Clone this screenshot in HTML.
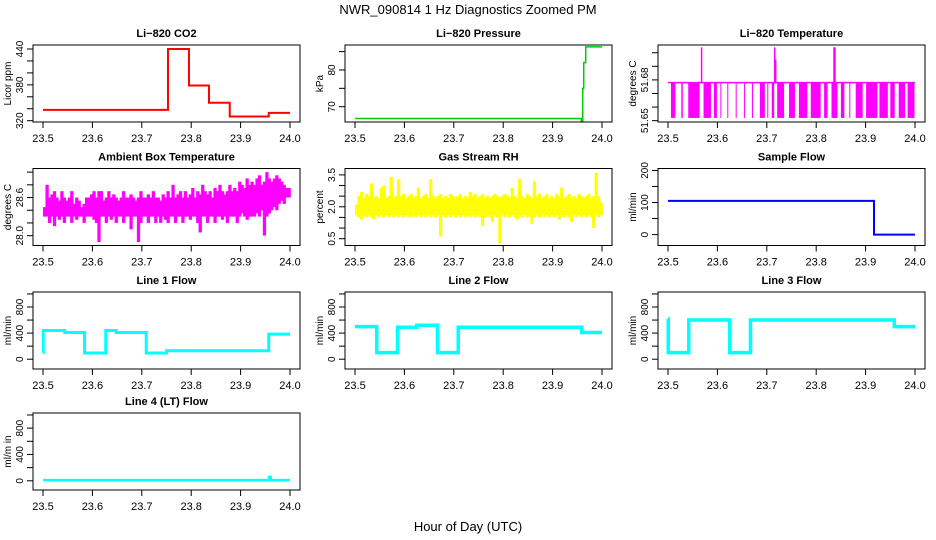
<!DOCTYPE html>
<html><head><meta charset="utf-8"><style>
html,body{margin:0;padding:0;background:#fff;}
svg{display:block;font-family:"Liberation Sans",Arial,sans-serif;}
</style></head><body>
<svg id="chart" width="936" height="540" viewBox="0 0 936 540">
<text x="468" y="14" text-anchor="middle" font-size="13">NWR_090814  1 Hz Diagnostics Zoomed PM</text>
<text x="468" y="531" text-anchor="middle" font-size="13">Hour of Day (UTC)</text>
</svg>
<script>
// ---- data ----
const xTicks = [23.5, 23.6, 23.7, 23.8, 23.9, 24.0];
const xTickLabels = ["23.5", "23.6", "23.7", "23.8", "23.9", "24.0"];

const co2Times = [23.5, 23.753, 23.7955, 23.836, 23.878, 23.957, 24.0];
const co2Values = [338, 440, 379, 350, 327, 333, 333];

const presTimes = [23.5, 23.916, 23.958, 23.961, 23.963, 23.967, 24.0];
const presValues = [66.8, 66.8, 66.0, 75, 82, 86.3, 86.3];

const tempBase = 51.678;
const tempLow = 51.652;
const tempDropStarts = [23.506,23.527,23.541,23.572,23.593,23.606,23.620,23.637,23.654,23.670,23.686,23.701,23.710,23.721,23.745,23.765,23.789,23.816,23.831,23.850,23.867,23.880,23.901,23.928,23.950,23.967,23.985];
const tempDropEnds   = [23.515,23.530,23.564,23.587,23.599,23.608,23.621,23.638,23.655,23.671,23.696,23.702,23.715,23.735,23.757,23.782,23.809,23.823,23.843,23.857,23.868,23.894,23.924,23.945,23.959,23.980,23.999];
const tempSpikeTimes = [23.568, 23.716, 23.718, 23.836, 23.838];
const tempSpikeValues = [51.704, 51.704, 51.695, 51.704, 51.704];

const ambHi = [28.45,28.8,28.6,28.65,28.7,28.6,28.55,28.7,28.6,28.55,28.6,28.7,28.5,28.6,28.55,28.45,28.5,28.6,28.6,28.65,28.7,28.6,28.7,28.7,28.55,28.6,28.7,28.6,28.65,28.6,28.55,28.6,28.7,28.6,28.6,28.65,28.6,28.55,28.6,28.7,28.6,28.6,28.65,28.6,28.7,28.6,28.6,28.55,28.65,28.6,28.7,28.6,28.8,28.6,28.65,28.7,28.6,28.7,28.6,28.65,28.75,28.6,28.7,28.65,28.8,28.7,28.65,28.7,28.6,28.75,28.7,28.8,28.7,28.65,28.7,28.8,28.7,28.75,28.7,28.85,28.8,28.75,28.9,28.8,28.85,28.8,28.9,28.95,28.8,28.85,29.0,28.9,28.85,28.9,28.95,28.9,28.85,28.8,28.75,28.75];
const ambLo = [28.3,28.3,28.2,28.3,28.15,28.3,28.25,28.3,28.2,28.3,28.3,28.2,28.3,28.25,28.3,28.3,28.2,28.3,28.3,28.3,28.25,28.2,27.9,28.3,28.3,28.2,28.3,28.25,28.3,28.2,28.3,28.3,28.2,28.3,28.3,28.1,28.3,28.3,27.9,28.2,28.3,28.3,28.2,28.3,28.3,28.2,28.3,28.2,28.3,28.25,28.2,28.3,28.3,28.2,28.3,28.3,28.2,28.3,28.3,28.25,28.3,28.3,28.2,28.05,28.3,28.3,28.2,28.3,28.3,28.2,28.3,28.3,28.25,28.3,28.2,28.3,28.3,28.3,28.2,28.3,28.35,28.3,28.25,28.3,28.3,28.3,28.35,28.3,28.4,28.0,28.3,28.35,28.4,28.45,28.4,28.5,28.55,28.5,28.6,28.6];

const rhHi = [2.1,2.5,2.7,2.4,2.6,2.5,3.1,2.4,2.5,2.4,2.9,3.0,2.4,2.5,3.4,2.4,2.5,3.3,2.5,2.6,2.4,2.5,2.6,2.4,2.5,2.9,2.4,2.5,2.6,2.4,3.3,2.5,2.4,2.5,2.6,2.4,2.5,2.4,2.6,2.5,2.4,2.5,2.6,2.4,2.5,2.4,2.7,2.5,2.6,2.4,2.5,2.6,2.4,2.5,2.4,2.5,2.6,2.5,2.4,2.5,2.6,2.5,2.4,2.9,2.5,2.4,3.3,2.5,2.4,2.6,2.5,2.4,3.2,2.5,2.6,2.4,2.5,2.6,2.4,2.5,2.4,2.6,2.5,2.9,2.4,2.5,2.6,2.4,2.5,2.4,2.6,2.5,2.4,2.5,2.6,2.4,2.5,3.6,2.5,2.2];
const rhLo = [1.6,1.5,1.4,1.6,1.5,1.6,1.5,1.4,1.6,1.5,1.6,1.5,1.6,1.5,1.6,1.5,1.6,1.5,1.6,1.5,1.6,1.5,1.5,1.6,1.5,1.6,1.5,1.6,1.5,1.6,1.5,1.6,1.5,1.6,0.6,1.6,1.5,1.6,1.5,1.6,1.5,1.6,1.5,1.6,1.5,1.6,1.5,1.6,1.5,1.6,1.5,1.1,1.5,1.6,1.5,1.3,1.6,1.5,0.3,1.6,1.5,1.6,1.5,1.6,1.5,1.4,1.6,1.5,1.6,1.5,1.6,1.2,1.5,1.6,1.5,1.6,1.5,1.6,1.5,1.6,1.5,1.6,1.4,1.6,1.5,1.6,1.5,1.3,1.6,1.5,1.6,1.5,1.6,1.5,1.6,1.5,1.0,1.6,1.5,1.6];

const sampleTimes = [23.5, 23.917, 24.0];
const sampleValues = [105, 0, 0];

const line1Times = [23.5, 23.5005, 23.544, 23.584, 23.627, 23.648, 23.709, 23.75, 23.957, 24.0];
const line1Values = [100, 440, 410, 95, 440, 410, 95, 130, 385, 385];
const line2Times = [23.5, 23.544, 23.586, 23.625, 23.667, 23.709, 23.959, 24.0];
const line2Values = [500, 100, 490, 520, 100, 490, 410, 410];
const line3Times = [23.5, 23.5005, 23.542, 23.625, 23.667, 23.958, 24.0];
const line3Values = [620, 100, 600, 100, 600, 500, 500];
const line4Times = [23.5, 23.957, 23.9575, 23.961, 24.0];
const line4Values = [10, 10, 60, 10, 10];

// ---- layout ----
const NS = "http://www.w3.org/2000/svg";
const svg = document.getElementById("chart");
const colX = [0, 312, 625];
const rowY = [45, 168.5, 292, 413];
const BOXW = 267, BOXH = 77;

function el(tag, attrs, parent) {
  const e = document.createElementNS(NS, tag);
  for (const k in attrs) e.setAttribute(k, attrs[k]);
  (parent || svg).appendChild(e);
  return e;
}

function makePanel(col, row, title, ylab, ymin, ymax, yTicks, yLabels, slug) {
  const g = el("g", {});
  
  
  const left = colX[col] + 33, top = rowY[row], right = left + BOXW, bottom = top + BOXH;
  const xs = h => colX[col] + 43 + (h - 23.5) * 494;
  const ys = v => bottom - (v - ymin) / (ymax - ymin) * BOXH;
  const t = el("text", {x: (left + right) / 2, y: top - 8, "text-anchor": "middle", "font-size": 11, "font-weight": "bold"}, g);
  t.textContent = title;
  
  
  const yl = el("text", {x: 0, y: 0, transform: `translate(${left - 22},${(top + bottom) / 2}) rotate(-90)`, "text-anchor": "middle", "font-size": 10}, g);
  yl.textContent = ylab;
  
  
  const xa = el("g", {stroke: "#000", "stroke-width": 1}, g);
  
  
  xTicks.forEach((v, i) => {
    el("line", {x1: xs(v), x2: xs(v), y1: bottom, y2: bottom + 6}, xa);
    const tl = el("text", {x: xs(v), y: bottom + 20, "text-anchor": "middle", "font-size": 11, stroke: "none"}, xa);
    tl.textContent = xTickLabels[i];
    
    
  });
  const ya = el("g", {stroke: "#000", "stroke-width": 1}, g);
  
  
  yTicks.forEach(v => {
    el("line", {x1: left - 6, x2: left, y1: ys(v), y2: ys(v)}, ya);
    const lbl = yLabels.find(p => p[0] === v);
    if (lbl) {
      const tl = el("text", {x: 0, y: 0, transform: `translate(${left - 10},${ys(v)}) rotate(-90)`, "text-anchor": "middle", "font-size": 10, stroke: "none"}, ya);
      tl.textContent = lbl[1];
      
      
    }
  });
  const data = el("g", {}, g);
  
  
  const box = el("rect", {x: left, y: top, width: BOXW, height: BOXH, fill: "none", stroke: "#000", "stroke-width": 1}, g);
  
  
  return {xs, ys, data};
}

function stepLine(p, times, values, color, w) {
  let d = "";
  for (let i = 0; i < times.length; i++) {
    const x = p.xs(times[i]), y = p.ys(values[i]);
    if (i === 0) d += `M${x},${y}`;
    else d += `H${x}V${y}`;
  }
  const path = el("path", {d, fill: "none", stroke: color, "stroke-width": w}, p.data);
  
  
}
function band(p, hi, lo, color) {
  const n = hi.length, bw = 0.5 / n;
  for (let i = 0; i < n; i++) {
    const x0 = p.xs(23.5 + i * bw), x1 = p.xs(23.5 + (i + 1) * bw);
    const r = el("rect", {x: x0, y: p.ys(hi[i]), width: x1 - x0 + 0.8, height: p.ys(lo[i]) - p.ys(hi[i]), fill: color}, p.data);
    
    
  }
}

function range(a, b, s) { const r = []; for (let v = a; v <= b + s / 2; v += s) r.push(+v.toFixed(4)); return r; }

let p = makePanel(0, 0, "Li\u2212820 CO2", "Licor ppm", 317.8, 446.7, range(320, 440, 20), [[320, "320"], [380, "380"], [440, "440"]], "co2");
stepLine(p, co2Times, co2Values, "#ff0000", 2);
p = makePanel(1, 0, "Li\u2212820 Pressure", "kPa", 65.83, 86.8, [70, 75, 80, 85], [[70, "70"], [80, "80"]], "pressure");
stepLine(p, presTimes, presValues, "#00cc00", 1.5);
p = makePanel(2, 0, "Li\u2212820 Temperature", "degrees C", 51.649, 51.7057, range(51.65, 51.70, 0.01), [[51.65, "51.65"], [51.68, "51.68"]], "li820-temp");
tempDropStarts.forEach((s, i) => {
  const r = el("rect", {x: p.xs(s), y: p.ys(tempBase), width: Math.max(1, p.xs(tempDropEnds[i]) - p.xs(s)), height: p.ys(tempLow) - p.ys(tempBase), fill: "#ff00ff"}, p.data);
  
  
});
stepLine(p, [23.5, 24.0], [tempBase, tempBase], "#ff00ff", 1.5);
tempSpikeTimes.forEach((s, i) => {
  const l = el("line", {x1: p.xs(s), x2: p.xs(s), y1: p.ys(tempBase), y2: p.ys(tempSpikeValues[i]), stroke: "#ff00ff", "stroke-width": 1.5}, p.data);
  
  
});
p = makePanel(0, 1, "Ambient Box Temperature", "degrees C", 27.845, 29.057, range(28.0, 29.0, 0.2), [[28.0, "28.0"], [28.6, "28.6"]], "ambient-temp");
band(p, ambHi, ambLo, "#ff00ff");
p = makePanel(1, 1, "Gas Stream RH", "percent", 0.18, 3.8, range(0.5, 3.5, 0.5), [[0.5, "0.5"], [2.0, "2.0"], [3.5, "3.5"]], "gas-rh");
band(p, rhHi, rhLo, "#ffff00");
p = makePanel(2, 1, "Sample Flow", "ml/min", -34, 206, range(0, 200, 50), [[0, "0"], [100, "100"], [200, "200"]], "sample-flow");
stepLine(p, sampleTimes, sampleValues, "#0000ff", 2);
const flowTicks = range(0, 1000, 200), flowLabels = [[0, "0"], [400, "400"], [800, "800"]];
p = makePanel(0, 2, "Line 1 Flow", "ml/min", -150, 1030, flowTicks, flowLabels, "line1-flow");
stepLine(p, line1Times, line1Values, "#00ffff", 3);
p = makePanel(1, 2, "Line 2 Flow", "ml/min", -150, 1030, flowTicks, flowLabels, "line2-flow");
stepLine(p, line2Times, line2Values, "#00ffff", 3.5);
p = makePanel(2, 2, "Line 3 Flow", "ml/min", -150, 1030, flowTicks, flowLabels, "line3-flow");
stepLine(p, line3Times, line3Values, "#00ffff", 3.5);
p = makePanel(0, 3, "Line 4 (LT) Flow", "ml/m in", -140, 1030, flowTicks, flowLabels, "line4-flow");
stepLine(p, line4Times, line4Values, "#00ffff", 2.5);
</script>
</body></html>
